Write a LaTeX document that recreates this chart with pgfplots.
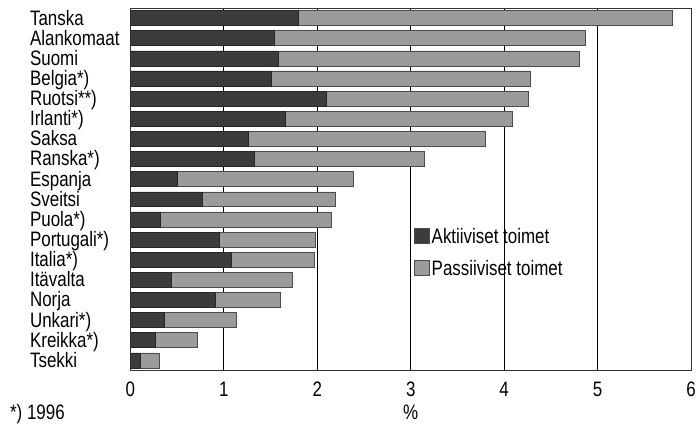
\documentclass[border=0pt]{standalone}
\usepackage{fontspec}
\setmainfont[FakeStretch=0.81]{Liberation Sans}
\usepackage{pgfplots}
\pgfplotsset{compat=1.18}
\usepackage{pgfplotstable}
\definecolor{darkbar}{RGB}{60,60,60}
\definecolor{lightbar}{RGB}{155,155,155}
\pgfplotstableread{
idx akt pass
0 1.80 4.00
1 1.54 3.33
2 1.58 3.22
3 1.51 2.77
4 2.10 2.16
5 1.66 2.43
6 1.26 2.54
7 1.33 1.81
8 0.50 1.88
9 0.77 1.42
10 0.32 1.83
11 0.95 1.03
12 1.08 0.89
13 0.44 1.29
14 0.91 0.69
15 0.36 0.77
16 0.27 0.45
17 0.11 0.20
}\datatable
\begin{document}
\begin{tikzpicture}[font=\fontsize{21bp}{24bp}\selectfont]
\begin{axis}[
  name=ax,
  scale only axis,
  width=563bp, height=364bp,
  xbar stacked,
  bar width=15bp,
  xmin=0, xmax=6,
  ymin=-0.5, ymax=17.5,
  y dir=reverse,
  ytick={0,...,17},
  yticklabels={Tanska,Alankomaat,Suomi,Belgia*),Ruotsi**),Irlanti*),Saksa,Ranska*),Espanja,Sveitsi,Puola*),Portugali*),Italia*),Itävalta,Norja,Unkari*),Kreikka*),Tsekki},
  yticklabel style={anchor=west, inner sep=0pt, xshift=-101bp, text height=15bp, text depth=1bp},
  xtick={0,1,2,3,4,5,6},
  xticklabel style={yshift=-8bp},
  /pgf/number format/assume math mode=true,
  major tick length=0pt,
  xmajorgrids,
  major grid style={black, line width=0.8bp},
  axis line style={black!80, line width=0.8bp},
  xlabel={\%},
  xlabel style={yshift=-5bp, inner sep=0pt},
  legend style={draw=none, fill=none, at={(rel axis cs:0.506,0.398)}, anchor=north west, row sep=11bp, font=\fontsize{21bp}{24bp}\selectfont, inner sep=0pt, cells={anchor=west}},
  legend image code/.code={\draw[#1, draw=black!70, line width=0.5bp] (0bp,-7bp) rectangle (15bp,8bp);},
  legend cell align=left,
]
\addplot[fill=darkbar, draw=black!85, line width=0.5bp] table[x=akt, y=idx] {\datatable};
\addplot[fill=lightbar, draw=black!70, line width=0.5bp] table[x=pass, y=idx] {\datatable};
\legend{Aktiiviset toimet, Passiiviset toimet}
\end{axis}
\node[anchor=west, inner sep=0pt] at ([xshift=-121bp,yshift=-44bp]ax.south west) {*) 1996};
\pgfresetboundingbox
\path ([xshift=-131bp,yshift=-59bp]ax.south west) rectangle ([xshift=6bp,yshift=8bp]ax.north east);
\end{tikzpicture}
\end{document}
